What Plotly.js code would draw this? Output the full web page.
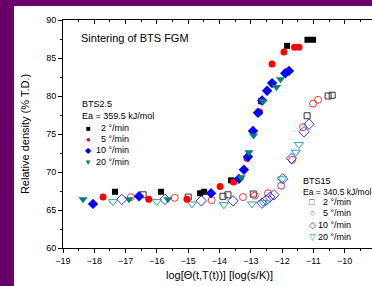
<!DOCTYPE html>
<html><head><meta charset="utf-8">
<script src="https://cdn.plot.ly/plotly-3.0.1.min.js"></script>
<style>
html,body{margin:0;padding:0;width:372px;height:286px;overflow:hidden;background:#690069;}
#plot{position:absolute;left:14px;top:6px;width:364px;height:280px;background:#fff;}
</style></head><body>
<div id="plot"></div>
<script>
// BTS2.5 (filled)
const b2_2x = [-17.34,-15.87,-14.62,-14.49,-13.63,-12.67,-11.84,-11.19,-11.01];
const b2_2y = [67.4,67.4,67.2,67.4,68.9,79.3,86.6,87.4,87.4];
const b2_5x = [-17.72,-16.26,-15.04,-13.98,-13.55,-13.12,-12.72,-12.32,-11.94,-11.6,-11.46];
const b2_5y = [66.7,66.4,66.4,68.1,68.7,71.8,77.9,84.2,85.8,86.4,86.4];
const b2_10x = [-18.04,-16.57,-14.27,-13.38,-13.22,-13.09,-12.93,-12.77,-12.64,-12.48,-12.32,-11.9,-11.78];
const b2_10y = [65.8,66.8,67.2,69.1,70.3,72.0,75.4,77.8,79.4,80.7,81.7,83.0,83.3];
const b2_20x = [-18.36,-16.89,-15.65,-13.31,-13.06,-12.91,-12.62,-12.18,-12.05];
const b2_20y = [66.4,66.4,66.4,69.3,72.6,74.8,79.3,81.2,82.2];
// BTS15 (open)
const b15_2x = [-16.44,-15.0,-13.89,-13.73,-12.92,-11.2,-10.53,-10.4];
const b15_2y = [67.0,66.7,66.8,67.0,67.1,77.4,80.0,80.1];
const b15_5x = [-16.83,-15.43,-14.25,-13.25,-12.87,-12.45,-12.03,-11.68,-11.33,-11.01,-10.85];
const b15_5y = [66.7,66.6,66.3,66.7,66.9,67.2,68.2,71.6,75.9,79.0,79.5];
const b15_10x = [-17.12,-15.74,-14.58,-13.57,-12.64,-12.51,-12.39,-12.26,-11.98,-11.7,-11.3,-11.14];
const b15_10y = [66.4,66.4,66.2,66.2,65.9,66.3,66.7,67.0,69.1,71.8,75.3,76.3];
const b15_20x = [-17.4,-16.0,-14.88,-13.86,-12.96,-12.61,-11.99,-11.56,-11.46];
const b15_20y = [66.1,66.1,65.8,65.7,65.8,66.0,69.1,72.6,73.6];

const rateLabels = ["2 °/min","5 °/min","10 °/min","20 °/min"];
const group1 = {name:"BTS2.5", ea:"Ea = 359.5 kJ/mol"};
const group2 = {name:"BTS15", ea:"Ea = 340.5 kJ/mol"};

const FONT = "Liberation Sans, Arial, sans-serif";
const cols = ["#000000","#ff0000","#0000ff","#008080"];
const ocols = ["#333333","#ff3030","#3838ff","#30a0a0"];

function tr(x,y,sym,size,color,open){
  return {x:x,y:y,type:"scatter",mode:"markers",showlegend:false,hoverinfo:"skip",
    marker:{symbol:sym,size:size,color:color,
      line:{color:color,width:open?1:0}}};
}
const data = [
  tr(b15_2x,b15_2y,"square-open",6,ocols[0],true),
  tr(b15_5x,b15_5y,"circle-open",7,ocols[1],true),
  tr(b15_10x,b15_10y,"diamond-open",8,ocols[2],true),
  tr(b15_20x,b15_20y,"triangle-down-open",8,ocols[3],true),
  tr(b2_2x,b2_2y,"square",6,cols[0],false),
  tr(b2_5x,b2_5y,"circle",7,cols[1],false),
  tr(b2_10x,b2_10y,"diamond",8,cols[2],false),
  tr(b2_20x,b2_20y,"triangle-down",8,cols[3],false),
];

// pixel helpers (page px -> paper coords); plot area left 63, right 376, top 20, bottom 248
const px = v => (v-63)/313;
const py = v => (248-v)/228;
const ann = [];
function txt(x,y,t,anchor,size,color){
  ann.push({xref:"paper",yref:"paper",x:px(x),y:py(y),text:t,showarrow:false,
    xanchor:anchor,yanchor:"middle",font:{family:FONT,size:size,color:color||"#000"}});
}
txt(79,38,"Sintering of BTS FGM","left",11);
txt(80,104,group1.name,"left",9);
txt(80,116,group1.ea,"left",9);
const fsym = ["■","●","◆","▼"], osym = ["□","○","◇","▽"];
const rows1 = [128,139,150,162], rows2=[202,213,225,237];
for(let i=0;i<4;i++){
  txt(88,rows1[i],fsym[i],"center",8,cols[i]);
  txt(131,rows1[i],rateLabels[i],"right",9);
}
txt(301,181,group2.name,"left",9);
txt(301,192,group2.ea,"left",8.5);
for(let i=0;i<4;i++){
  txt(312,rows2[i],osym[i],"center",9,ocols[i]);
  txt(353,rows2[i],rateLabels[i],"right",9);
}

const layout = {
  width:364,height:280,
  margin:{l:49,r:2,t:14,b:38},
  paper_bgcolor:"#fff",plot_bgcolor:"#fff",
  font:{family:FONT,size:9,color:"#000"},
  xaxis:{range:[-19,-9],dtick:1,tick0:-19,showgrid:false,zeroline:false,
    showline:true,linecolor:"#000",linewidth:1,ticks:"outside",ticklen:4,tickcolor:"#000",
    minor:{dtick:0.5,ticks:"outside",ticklen:2,tickcolor:"#000"},
    tickfont:{family:FONT,size:9},
    title:{text:"log[Θ(t,T(t))] [log(s/K)]",font:{family:FONT,size:11},standoff:6}},
  yaxis:{range:[60,90],dtick:5,showgrid:false,zeroline:false,
    showline:true,linecolor:"#000",linewidth:1,ticks:"outside",ticklen:4,tickcolor:"#000",
    minor:{dtick:2.5,ticks:"outside",ticklen:2,tickcolor:"#000"},
    tickfont:{family:FONT,size:9},
    title:{text:"Relative density (% T.D.)",font:{family:FONT,size:11},standoff:14}},
  xaxis2:{overlaying:"x",side:"top",matches:"x",range:[-19,-9],dtick:1,tick0:-19,
    showgrid:false,zeroline:false,showline:true,linecolor:"#000",ticks:"inside",ticklen:4,
    tickcolor:"#000",showticklabels:false,minor:{dtick:0.5,ticks:"inside",ticklen:2,tickcolor:"#000"}},
  yaxis2:{overlaying:"y",side:"right",range:[60,90],dtick:5,showgrid:false,zeroline:false,
    showline:true,linecolor:"#000",ticks:"inside",ticklen:4,tickcolor:"#000",showticklabels:false,
    minor:{dtick:2.5,ticks:"inside",ticklen:2,tickcolor:"#000"}},
  annotations:ann,
  showlegend:false
};
// invisible trace to activate the mirror axes
data.push({x:[-19],y:[60],xaxis:"x2",yaxis:"y2",type:"scatter",mode:"markers",
  marker:{opacity:0},showlegend:false,hoverinfo:"skip"});
Plotly.newPlot("plot",data,layout,{staticPlot:true,displayModeBar:false});
</script>
</body></html>
